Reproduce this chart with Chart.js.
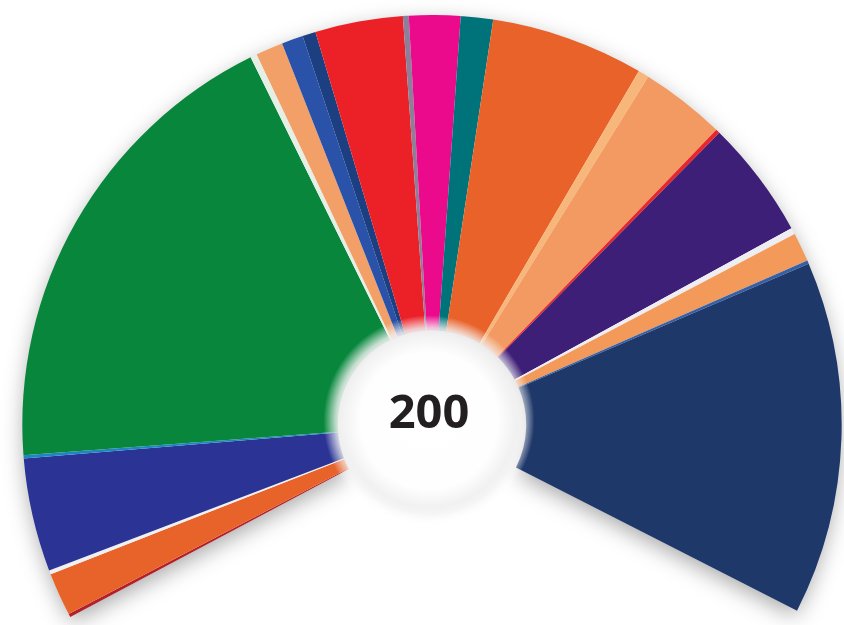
<!DOCTYPE html>
<html>
<head>
<meta charset="utf-8">
<script src="https://cdn.jsdelivr.net/npm/chart.js@4"></script>
<style>
  html, body { margin: 0; padding: 0; background: #fff; overflow: hidden; }
  #wrap { width: 844px; height: 625px; position: relative; }
</style>
</head>
<body>
<div id="wrap"><canvas id="seatChart"></canvas></div>
<script>
// seat groups, clockwise from the bottom-left end of the arc
const groups = [
  'dark red', 'orange', 'white', 'royal blue', 'light blue', 'green', 'white',
  'salmon', 'blue', 'navy', 'red', 'grey', 'magenta', 'teal', 'orange',
  'peach', 'salmon', 'red', 'purple', 'white', 'salmon', 'blue', 'dark navy'
];
const seats = [
  0.4, 5.2, 0.5, 13.7, 0.4, 57.9, 0.8,
  3.3, 2.6, 1.6, 10.6, 0.7, 6.2, 3.9, 18.5,
  1.3, 10.3, 0.5, 14.3, 0.8, 3.5, 0.4, 42.7
];
const colors = [
  '#b3202a', '#e8632a', '#f0f0f0', '#2b3494', '#1f86c6', '#08873c', '#e6efe6',
  '#f2a068', '#2a52a8', '#1b3f80', '#ec2027', '#8c7f9a', '#ec0a8c', '#00737a', '#e8622a',
  '#f7b67a', '#f29a62', '#e8262a', '#3e1f78', '#eeeef2', '#f39a5a', '#3460a8', '#1f386a'
];
const totalLabel = '200';

// soft drop shadow behind the whole arc, drawn once before the slices
const shadowPlugin = {
  id: 'arcShadow',
  beforeDatasetsDraw(chart) {
    const arcs = chart.getDatasetMeta(0).data;
    if (!arcs.length) return;
    const first = arcs[0], last = arcs[arcs.length - 1];
    const { ctx } = chart;
    ctx.save();
    ctx.shadowColor = 'rgba(0,0,0,0.35)';
    ctx.shadowBlur = 22;
    ctx.shadowOffsetY = 6;
    ctx.fillStyle = '#fff';
    ctx.beginPath();
    ctx.arc(first.x, first.y, first.outerRadius - 2, first.startAngle, last.endAngle);
    ctx.arc(first.x, first.y, first.innerRadius + 2, last.endAngle, first.startAngle, true);
    ctx.closePath();
    ctx.fill();
    ctx.restore();
  },
  afterDatasetsDraw(chart) {
    const arc = chart.getDatasetMeta(0).data[0];
    if (!arc) return;
    const { ctx } = chart;
    const r = arc.innerRadius * 1.12;
    const g = ctx.createRadialGradient(arc.x - 3, arc.y - 4, 0, arc.x - 3, arc.y - 4, r);
    g.addColorStop(0, '#ffffff');
    g.addColorStop(0.65, '#fefefe');
    g.addColorStop(0.82, '#f1f1f1');
    g.addColorStop(0.88, 'rgba(242,242,242,0.8)');
    g.addColorStop(1, 'rgba(255,255,255,0)');
    ctx.save();
    ctx.fillStyle = g;
    ctx.beginPath();
    ctx.arc(arc.x - 3, arc.y - 4, r, 0, Math.PI * 2);
    ctx.fill();

    ctx.fillStyle = '#231f20';
    ctx.font = 'bold 47px "Open Sans", "Noto Sans", sans-serif';
    ctx.textAlign = 'center';
    ctx.textBaseline = 'middle';
    ctx.fillText(totalLabel, arc.x - 3, arc.y - 10);
    ctx.restore();
  }
};

new Chart(document.getElementById('seatChart'), {
  type: 'doughnut',
  data: {
    labels: groups,
    datasets: [{
      data: seats,
      backgroundColor: colors,
      borderWidth: 0
    }]
  },
  options: {
    responsive: true,
    maintainAspectRatio: false,
    animation: false,
    rotation: -118,
    circumference: 235,
    cutout: '23%',
    layout: { padding: { left: 22, right: 2, top: 15, bottom: 8 } },
    plugins: {
      legend: { display: false },
      tooltip: { enabled: false }
    }
  },
  plugins: [shadowPlugin]
});
</script>
</body>
</html>
